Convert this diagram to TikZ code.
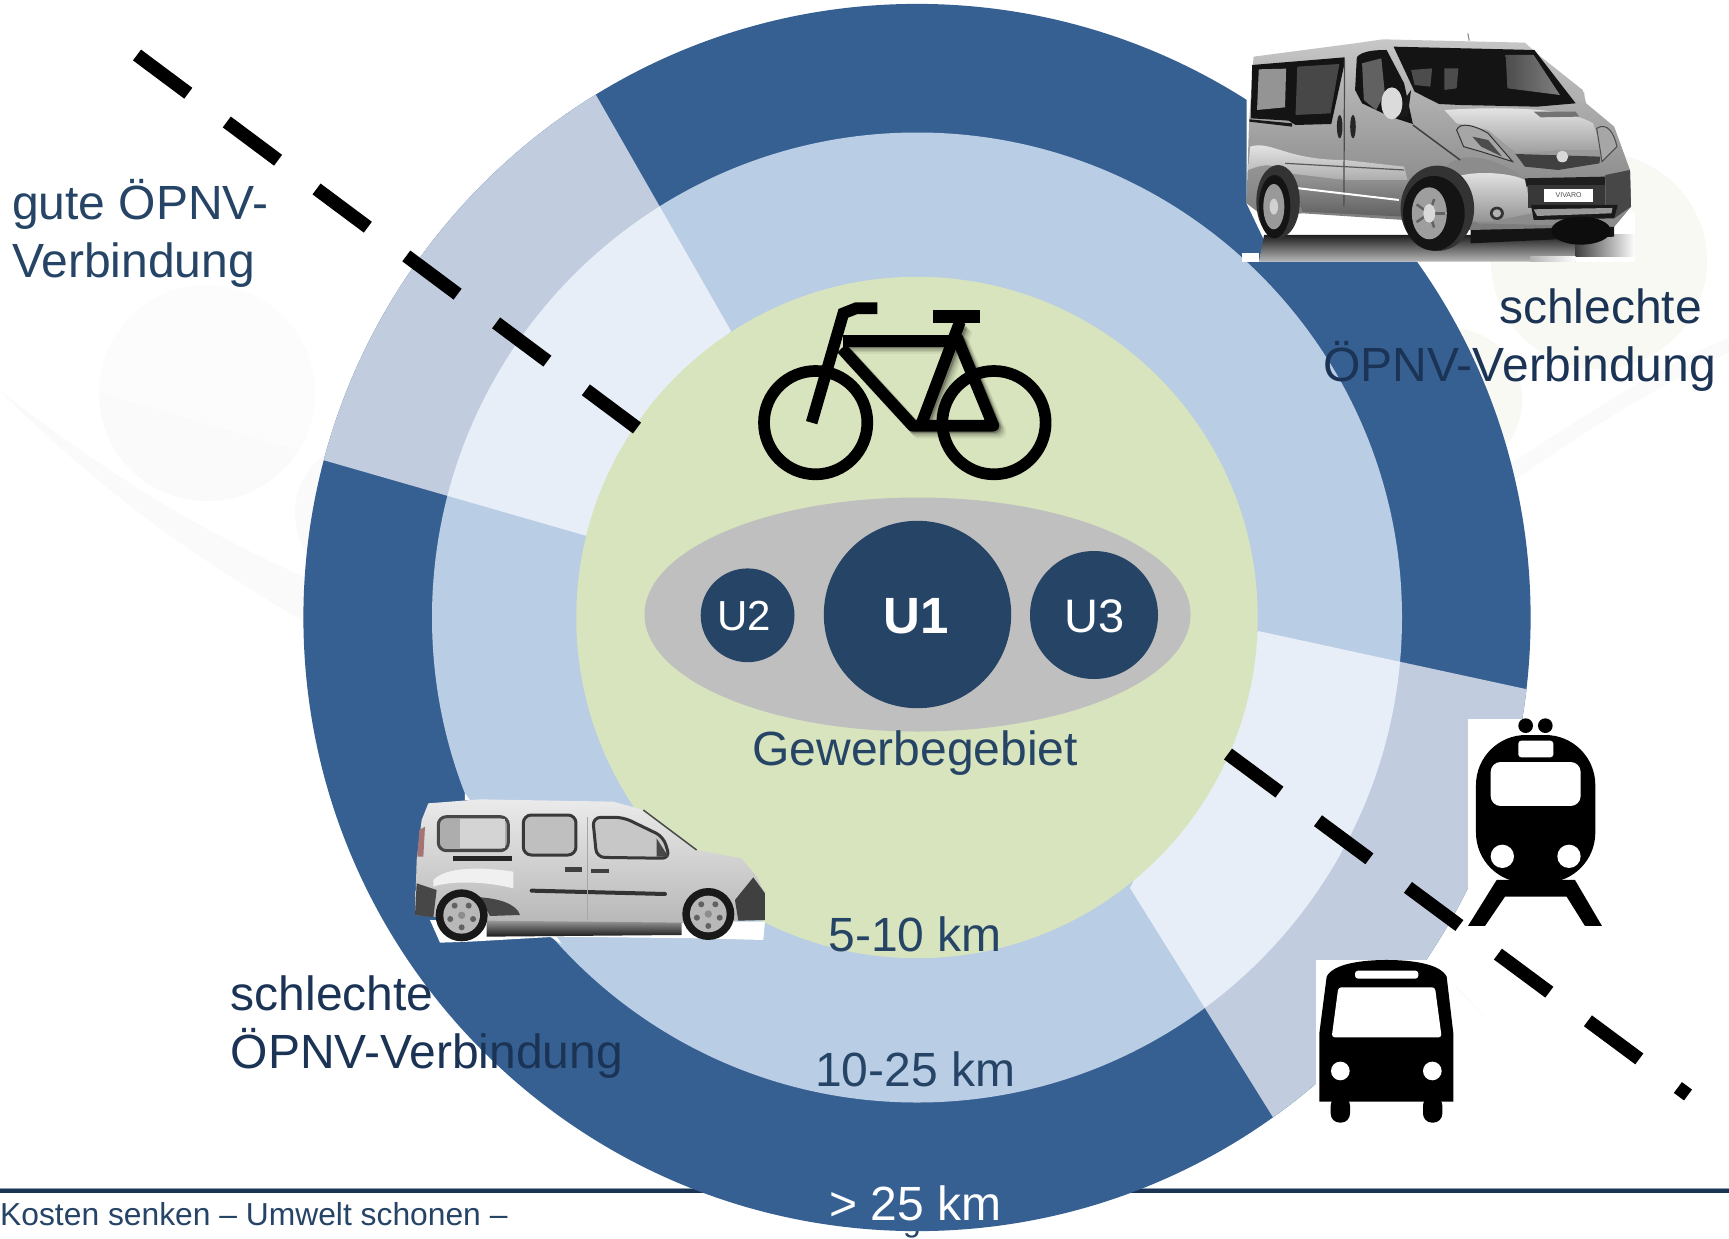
\documentclass[tikz,border=0pt]{standalone}
\usepackage{fontspec}
\setmainfont{Liberation Sans}
\definecolor{ringA}{HTML}{376092}
\definecolor{ringB}{HTML}{B9CDE5}
\definecolor{ringC}{HTML}{D7E4BD}
\definecolor{paleA}{HTML}{C1CDDE}
\definecolor{paleB}{HTML}{E7EEF7}
\definecolor{navy}{HTML}{264466}
\definecolor{ink}{HTML}{1B3355}
\definecolor{ovalgray}{HTML}{BFBFBF}
\definecolor{faintg}{HTML}{F8F9F3}
\tikzset{
  lab/.style={font=\fontsize{48}{56}\selectfont,inner sep=0pt,anchor=base,text=navy},
  labw/.style={lab,anchor=base west},
  labe/.style={lab,anchor=base east},
  unit/.style={circle,fill=navy,draw=none,inner sep=0pt,text=white,minimum size=#1},
  dashline/.style={line width=13.5pt,black,dash pattern=on 64pt off 48pt},
  frame/.style={line width=11.7pt,line join=round},
  faint/.style={fill=#1,draw=none},
}
\begin{document}
\begin{tikzpicture}[x=1pt,y=-1pt]
\useasboundingbox (0,0) rectangle (1729,1239);
\fill[white] (0,0) rectangle (1729,1239);
% faint background
\fill[faint=black!1] (207,393) circle (108);
\begin{scope}\clip (207,393) circle (108);
\fill[faint=black!2] (90,390) -- (330,460) -- (330,520) -- (90,520) -- cycle;
\end{scope}
\fill[faint=black!2] (0,391) .. controls (120,483) and (200,530) .. (310,580) -- (310,625) .. controls (180,550) and (90,480) .. (0,391) -- cycle;
\fill[faint=black!2] (367,513) circle (72);
\fill[faint=faintg] (1599,261) circle (108);
\fill[faint=faintg] (1450,400) circle (72);
\fill[faint=black!2] (1729,352) .. controls (1640,395) and (1580,435) .. (1500,490) -- (1500,470) .. controls (1580,420) and (1650,370) .. (1729,338) -- cycle;
\fill[faint=black!2] (1455,985) -- (1500,1033) -- (1503,1036) -- (1458,990) -- cycle;
% footer
\node[font=\fontsize{32}{38}\selectfont,inner sep=0pt,anchor=base,text=navy] (hidden) at (912,1231) {g};
\fill[black!25!ringB] (0,1187.5) rectangle (1729,1189);
\fill[ink] (0,1189) rectangle (1729,1193);
% rings
\coordinate (ctr) at (917,617.5);
\fill[ringA] (ctr) circle (613.6);
\begin{scope}
\clip (ctr) circle (613.6);
\fill[paleA] (731,331) -- (462,-139) -- (59,-139) -- (59,384) -- (587,536) -- cycle;
\fill[paleA] (1258,631) -- (1798,748) -- (1798,1400) -- (1415,1345) -- (1130,888) -- cycle;
\end{scope}
\fill[ringB] (ctr) circle (485);
\begin{scope}
\clip (ctr) circle (485);
\fill[paleB] (731,331) -- (462,-139) -- (59,-139) -- (59,384) -- (587,536) -- cycle;
\fill[paleB] (1258,631) -- (1798,748) -- (1798,1400) -- (1415,1345) -- (1130,888) -- cycle;
\end{scope}
\fill[ringC] (ctr) circle (340.7);
% oval with units
\fill[ovalgray] (917.5,614.5) ellipse [x radius=273,y radius=117];
\node[unit=187.4pt] (u1) at (917.5,614.5) {};
\node[unit=93.8pt] (u2) at (747.6,615.3) {};
\node[unit=128pt] (u3) at (1094,615) {};
\node[inner sep=0pt,text=white,font=\fontsize{51}{56}\selectfont\bfseries] (tu1) at (916,616.5) {U1};
\node[inner sep=0pt,text=white,font=\fontsize{42}{50}\selectfont] (tu2) at (744.5,616) {U2};
\node[inner sep=0pt,text=white,font=\fontsize{47}{54}\selectfont] (tu3) at (1094.5,616) {U3};
% dashed lines
\coordinate (la) at (137,55);
\coordinate (lb) at (637,428);
\coordinate (lc) at (1228,754);
\coordinate (ld) at (1688,1095);
\draw[dashline] (la) -- (lb);
\draw[dashline] (lc) -- (ld);
% texts
\node[labw] (t1) at (12,219) {gute ÖPNV-};
\node[labw] (t2) at (12,277) {Verbindung};
\node[labe,text=ink] (t3) at (1702,323) {schlechte};
\node[labe,text=ink] (t4) at (1716,381) {ÖPNV-Verbindung};
\node[labw,text=ink] (t5) at (230.5,1010) {schlechte};
\node[labw,text=ink] (t6) at (230.5,1068) {ÖPNV-Verbindung};
\node[lab] (t7) at (915.3,765) {Gewerbegebiet};
\node[lab] (t8) at (915.3,951) {5-10 km};
\node[lab] (t9) at (915.3,1086) {10-25 km};
\node[lab,text=white] (t10) at (915.3,1220) {> 25 km};
\node[font=\fontsize{31.8}{38}\selectfont,inner sep=0pt,anchor=base west,text=navy] (t11) at (0,1225) {Kosten senken – Umwelt schonen –};
% bicycle
\begin{scope}[shift={(730,280)},x=.3333pt,y=-.3333pt]
\foreach \o/\c/\w in {.05/{19,19}/13.5pt,.08/{15,15}/13pt,.1/{11,11}/12.5pt,.14/{7,7}/12pt,.2/{4,4}/12pt}{
\draw[frame,line width=\w,black,opacity=\o,shift={(\c)}] (335,205) -- (548,437) -- (790,437) -- (680,170);
\draw[frame,line width=\w,black,opacity=\o,shift={(\c)}] (340,182) -- (670,182);
\draw[frame,line width=\w,black,opacity=\o,shift={(\c)}] (575,430) -- (690,130);
}
\draw[frame] (257,428) circle (155);
\draw[frame] (792,428) circle (155);
\draw[frame,line join=miter] (245,428) -- (340,100) -- (378,85) -- (442,85);
\draw[frame,line join=miter] (340,182) -- (670,182);
\draw[frame] (335,205) -- (548,437) -- (790,437) -- (680,170);
\draw[frame,line join=miter] (575,430) -- (690,125);
\draw[line width=12.6pt] (610,110) -- (750,110);
\end{scope}
% van
\begin{scope}[shift={(1180,0)},x=.35014pt,y=-.3333pt]
\fill[white] (178,760) rectangle (225,785);
\fill[white] (190,290) -- (190,610) -- (240,720) -- (226,785) -- (1300,785) -- (1300,640) -- (1240,600) -- cycle;
\path[top color=black!88,bottom color=black!28] (240,705) -- (226,785) -- (1130,785) -- (1130,705) -- cycle;
\path[left color=black!75,right color=white] (1130,705) rectangle (1300,785);
\fill[white] (1130,770) rectangle (1300,785);
\path[left color=black!30,right color=white] (1000,770) rectangle (1130,785);
\fill[white] (340,688) -- (365,650) -- (640,660) -- (640,680) -- cycle;
\draw[black!50,line width=1pt] (822,100) -- (826,122);
\fill[black!92] (830,670) -- (1240,660) -- (1240,710) -- (830,730) -- cycle;
\path[top color=black!22,bottom color=black!52,draw=none] (210,170) -- (500,130) -- (580,118) -- (985,128) -- (1030,170) -- (1150,270) -- (1160,310) -- (1240,380) -- (1285,510) -- (1288,620) -- (1240,680) -- (830,690) -- (640,660) -- (350,640) -- (240,650) -- (190,610) -- (197,370) -- cycle;
% body lights
\path[top color=black!8,bottom color=black!32] (200,440) .. controls (260,420) and (300,480) .. (470,480) -- (640,500) -- (650,540) -- (470,540) -- (310,520) .. controls (260,480) and (220,500) .. (195,510) -- cycle;
\path[top color=black!42,bottom color=black!62] (310,530) -- (640,550) -- (640,650) -- (350,635) -- cycle;
\path[top color=black!10,bottom color=black!38] (755,330) .. controls (900,320) and (1100,320) .. (1180,370) -- (1205,450) -- (1100,450) -- (960,460) -- (880,390) -- (790,370) -- cycle;
\fill[black!45] (760,500) .. controls (800,450) and (900,470) .. (985,535) -- (1215,530) -- (1285,510) -- (1288,620) -- (1240,680) -- (850,670) -- (800,600) -- cycle;
\path[top color=black!10,bottom color=black!42] (790,530) .. controls (850,510) and (950,520) .. (985,540) -- (1005,640) -- (890,665) -- (830,665) .. controls (800,620) and (780,570) .. (790,530) -- cycle;
% side windows
\fill[black!92] (206,195) -- (470,172) -- (470,190) -- (432,372) -- (330,375) -- (310,362) -- (202,355) -- cycle;
\fill[black!42] (225,208) -- (303,206) -- (300,322) -- (220,330) -- cycle;
\fill[black!72] (335,200) -- (455,192) -- (430,340) -- (330,345) -- cycle;
\fill[black!92] (505,172) .. controls (520,150) and (570,150) .. (590,150) -- (640,250) -- (665,372) -- (600,350) -- (520,310) -- (500,270) -- cycle;
\fill[black!62] (520,190) -- (575,175) -- (585,280) -- (560,330) -- (525,300) -- cycle;
\fill[black!92] (610,140) -- (1012,150) -- (1130,310) -- (1020,320) -- (800,315) -- (740,312) -- (670,275) -- cycle;
\path[left color=black!70,right color=black!50] (930,165) -- (1010,165) -- (1085,285) -- (935,265) -- cycle;
\fill[black!70] (660,210) -- (720,205) -- (715,260) -- (670,255) -- cycle;
\fill[black!70] (755,205) -- (795,205) -- (790,265) -- (755,270) -- cycle;
\fill[black!30] (1130,268) -- (1155,278) -- (1155,305) -- (1140,300) -- cycle;
\fill[black!55] (1010,335) -- (1130,335) -- (1140,350) -- (1030,352) -- cycle;
% mirror, handles, seams
\fill[black!90] (640,300) -- (660,270) -- (650,350) -- (620,355) -- cycle;
\fill[black!14] (605,310) ellipse [x radius=30,y radius=48];
\fill[black!85] (456,380) ellipse [x radius=8,y radius=35];
\fill[black!85] (494,380) ellipse [x radius=8,y radius=35];
\draw[black!70,line width=1.2pt] (470,180) -- (468,620);
\draw[black!75,line width=1.5pt] (665,375) -- (800,480);
\draw[white,line width=2pt] (315,562) -- (625,600);
\draw[black!65,line width=1.2pt] (300,490) -- (640,510);
\fill[black!90] (198,365) -- (320,380) -- (320,370) -- (198,358) -- cycle;
% headlights
\path[fill=black!35,draw=black!80,line width=1pt] (790,390) .. controls (800,365) and (840,375) .. (880,400) -- (950,485) -- (860,455) -- (810,440) -- cycle;
\fill[black!70] (835,410) -- (880,420) -- (920,470) -- (860,440) -- cycle;
\path[fill=black!35,draw=black!70,line width=1pt] (1190,385) .. controls (1220,365) and (1240,400) .. (1248,440) -- (1205,485) -- (1200,450) -- cycle;
% grille
\fill[black!75] (958,462) -- (1200,470) -- (1198,490) -- (1080,510) -- (985,500) -- cycle;
\fill[black!15] (1092,470) circle (17);
\fill[black!88] (985,535) -- (1215,530) -- (1213,555) -- (990,560) -- cycle;
\fill[black!78] (995,555) rectangle (1215,625);
\fill[black!72] (1215,525) -- (1285,510) -- (1288,620) -- (1240,655) -- (1215,640) -- cycle;
\fill[black!90] (1003,615) -- (1250,615) -- (1240,655) -- (1010,660) -- cycle;
\fill[black!40] (1010,628) -- (1235,624) -- (1232,640) -- (1020,648) -- cycle;
\fill[black!80] (905,640) circle (20);
\fill[black!30] (905,640) circle (12);
% plate
\node[fill=white,inner sep=0pt,minimum width=49pt,minimum height=13pt,font=\fontsize{7}{8}\selectfont,text=black!70] (plate) at (1110,586) {VIVARO};
% wheels
\fill[black!80] (280,605) ellipse [x radius=62,y radius=110];
\fill[black!92] (270,620) ellipse [x radius=45,y radius=95];
\fill[black!40] (268,620) ellipse [x radius=30,y radius=68];
\fill[black!18] (268,620) ellipse [x radius=12,y radius=24];
\fill[black!80] (735,625) ellipse [x radius=105,y radius=128];
\fill[black!92] (725,640) ellipse [x radius=88,y radius=112];
\fill[black!38] (712,640) ellipse [x radius=50,y radius=78];
\foreach \a in {0,72,...,288}{\draw[black!62,line width=2.5pt] (712,640) -- ++(\a:45);}
\fill[black!15] (712,640) ellipse [x radius=17,y radius=28];
\fill[black!95] (1145,692) ellipse [x radius=85,y radius=42];
\end{scope}
% car
\begin{scope}[shift={(380,760)},x=.3333pt,y=-.3333pt]
\fill[white] (255,100) -- (270,120) -- (255,120) -- cycle;
\fill[white] (510,530) -- (545,552) -- (530,530) -- cycle;
\path[left color=white,middle color=black!85,right color=white] (150,480) -- (1155,485) -- (1150,540) -- (960,535) -- (530,530) -- (270,545) -- (180,548) -- cycle;
\path[top color=black!8,bottom color=black!28] (145,130) -- (300,118) -- (700,125) -- (790,150) -- (950,270) -- (1085,295) -- (1130,350) -- (1155,400) -- (1155,480) -- (1060,482) -- (900,490) -- (320,490) -- (160,470) -- (105,465) -- (110,300) -- (125,180) -- cycle;
\fill[black!72] (105,465) -- (110,370) -- (170,390) -- (160,472) -- cycle;
\fill[black!72] (300,412) .. controls (350,415) and (410,430) .. (420,465) -- (330,468) -- cycle;
\fill[black!75] (1155,400) -- (1120,352) -- (1065,420) -- (1075,482) -- (1155,480) -- cycle;
\fill[red!35!black!55] (112,290) -- (130,290) -- (135,200) -- (118,210) -- cycle;
\fill[black!6] (160,360) .. controls (200,320) and (300,320) .. (400,335) -- (400,385) .. controls (300,360) and (200,365) .. (160,380) -- cycle;
\draw[black!72,line width=3pt,rounded corners=8pt,fill=black!32] (175,170) rectangle (385,272);
\fill[black!17] (240,178) rectangle (375,264);
\draw[black!78,line width=3pt,rounded corners=8pt,fill=black!25] (430,165) rectangle (588,285);
\draw[black!78,line width=3pt,rounded corners=8pt,fill=black!22] (638,172) -- (730,172) -- (850,230) -- (870,295) -- (650,292) -- cycle;
\fill[black!72] (830,235) -- (865,290) -- (830,290) -- cycle;
\fill[black!85] (220,287) rectangle (397,302);
\fill[black!75] (555,322) rectangle (605,335);
\fill[black!75] (632,328) rectangle (688,340);
\draw[black!80,line width=4pt,line cap=round] (455,392) -- (855,402);
\draw[black!35,line width=1pt] (622,170) -- (622,480);
\draw[black!70,line width=1.5pt] (790,150) -- (950,270);
\path[top color=black!40,bottom color=black!90] (320,482) -- (905,488) -- (905,525) -- (320,530) -- cycle;
\foreach \cx/\cy in {245/466,985/462}{
\fill[black!90] (\cx,\cy) circle (78);
\fill[black!28] (\cx,\cy) circle (55);
\foreach \a in {18,90,...,306}{\fill[black!62] (\cx,\cy) ++(\a:36) circle (9);}
\fill[black!45] (\cx,\cy) circle (11);
}
\end{scope}
% train and bus
\begin{scope}[shift={(1270,700)},x=.3333pt,y=-.3333pt]
\fill[white] (594,57) rectangle (996,678);
\fill[black] (767,77) circle (22) (826,77) circle (22);
\fill[black,rounded corners=50pt] (618,105) rectangle (976,548);
\fill[black] (680,540) -- (594,678) -- (645,678) -- (705,590) -- (890,590) -- (945,678) -- (996,678) -- (915,540) -- cycle;
\fill[white,rounded corners=3pt] (745,122) rectangle (850,172);
\fill[white,rounded corners=10pt] (662,186) rectangle (932,318);
\fill[white] (697,469) circle (35) (897,469) circle (35);
\fill[white] (138,780) rectangle (552,1270);
\fill[black] (148,1205) -- (148,1000) -- (170,830) .. controls (190,790) and (280,780) .. (350,780) .. controls (420,780) and (510,790) .. (530,830) -- (550,1000) -- (550,1205) -- cycle;
\fill[black,rounded corners=9pt] (182,1190) -- (182,1268) -- (240,1268) -- (240,1190) -- cycle;
\fill[black,rounded corners=9pt] (459,1190) -- (459,1268) -- (517,1268) -- (517,1190) -- cycle;
\fill[white,rounded corners=3pt] (255,812) rectangle (445,836);
\fill[white,rounded corners=3pt] (205,862) -- (495,862) -- (515,1012) -- (185,1012) -- cycle;
\fill[white] (211,1113) circle (28) (487,1113) circle (28);
\end{scope}
\end{tikzpicture}
\end{document}
